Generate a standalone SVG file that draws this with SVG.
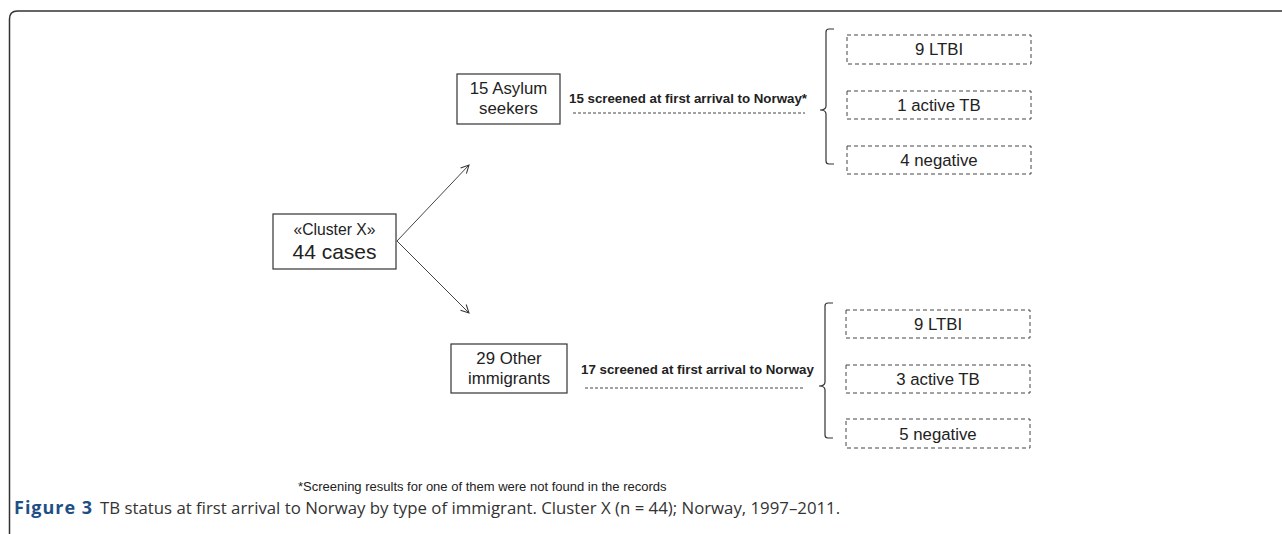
<svg xmlns="http://www.w3.org/2000/svg" width="1282" height="534" viewBox="0 0 1282 534">
<defs>
<marker id="arr" markerWidth="12" markerHeight="12" refX="10" refY="6" orient="auto" markerUnits="userSpaceOnUse">
<path d="M2,2 L10,6 L2,10" fill="none" stroke="#333" stroke-width="1"/>
</marker>
<style>
.box{fill:#fff;stroke:#333;stroke-width:1.2}
.dbox{fill:#fff;stroke:#444;stroke-width:1;stroke-dasharray:4,3}
.t{font-family:"Liberation Sans",Arial,sans-serif;fill:#222;text-anchor:middle}
.b{font-family:"Liberation Sans",Arial,sans-serif;font-weight:bold;font-size:13.3px;fill:#222}
.dl{stroke:#444;stroke-width:1;stroke-dasharray:3,2;fill:none}
.br{stroke:#333;stroke-width:1.2;fill:none}
.ln{stroke:#444;stroke-width:1;fill:none}
</style>
</defs>
<rect width="1282" height="534" fill="#fff"/>
<path d="M9.5,534 L9.5,19 Q9.5,11 17.5,11 L1282,11" fill="none" stroke="#333" stroke-width="1.5"/>

<g id="cluster">
<rect class="box" x="273" y="214" width="123" height="55"/>
<text class="t" x="334.5" y="235" font-size="15.7">«Cluster X»</text>
<text class="t" x="334.5" y="259" font-size="21">44 cases</text>
</g>

<g id="asylum">
<rect class="box" x="457" y="74" width="103" height="50"/>
<text class="t" x="508.5" y="94" font-size="16.8">15 Asylum</text>
<text class="t" x="508.5" y="114" font-size="16.8">seekers</text>
</g>

<g id="other">
<rect class="box" x="451" y="344" width="116" height="49"/>
<text class="t" x="509" y="364" font-size="16.8">29 Other</text>
<text class="t" x="509" y="384" font-size="16.8">immigrants</text>
</g>

<g id="a-ltbi"><rect class="dbox" x="847" y="35" width="184" height="29"/><text class="t" x="939" y="55" font-size="16.8">9 LTBI</text></g>
<g id="a-active"><rect class="dbox" x="847" y="91" width="184" height="28"/><text class="t" x="939" y="111" font-size="16.8">1 active TB</text></g>
<g id="a-neg"><rect class="dbox" x="847" y="146" width="184" height="28"/><text class="t" x="939" y="166" font-size="16.8">4 negative</text></g>

<g id="o-ltbi"><rect class="dbox" x="846" y="310" width="184" height="28"/><text class="t" x="938" y="330" font-size="16.8">9 LTBI</text></g>
<g id="o-active"><rect class="dbox" x="846" y="365" width="184" height="28"/><text class="t" x="938" y="385" font-size="16.8">3 active TB</text></g>
<g id="o-neg"><rect class="dbox" x="846" y="419" width="184" height="29"/><text class="t" x="938" y="440" font-size="16.8">5 negative</text></g>

<g id="connectors">
<line class="ln" x1="397" y1="241" x2="469" y2="165" marker-end="url(#arr)"/>
<line class="ln" x1="397" y1="241" x2="469" y2="313" marker-end="url(#arr)"/>
<text class="b" x="569" y="103">15 screened at first arrival to Norway*</text>
<line class="dl" x1="573" y1="113" x2="805" y2="113"/>
<text class="b" x="581" y="374">17 screened at first arrival to Norway</text>
<line class="dl" x1="585" y1="388" x2="803" y2="388"/>
<path class="br" d="M834,29 L829,29 Q826,29 826,32 L826,106 Q826,110 820,110 Q826,110 826,114 L826,161 Q826,164 829,164 L834,164"/>
<path class="br" d="M833,303 L828,303 Q825,303 825,306 L825,382 Q825,386 819,386 Q825,386 825,390 L825,435 Q825,438 828,438 L833,438"/>
</g>

<text x="298" y="491" font-family="Liberation Sans,Arial,sans-serif" font-size="13" fill="#222">*Screening results for one of them were not found in the records</text>
<text x="14" y="514" font-family="'Open Sans',sans-serif" font-size="18" font-weight="bold" letter-spacing="1" fill="#1d4f85">Figure 3</text>
<text x="100" y="514" font-family="'Open Sans',sans-serif" font-size="16.8" fill="#333">TB status at first arrival to Norway by type of immigrant. Cluster X (n = 44); Norway, 1997–2011.</text>
</svg>
